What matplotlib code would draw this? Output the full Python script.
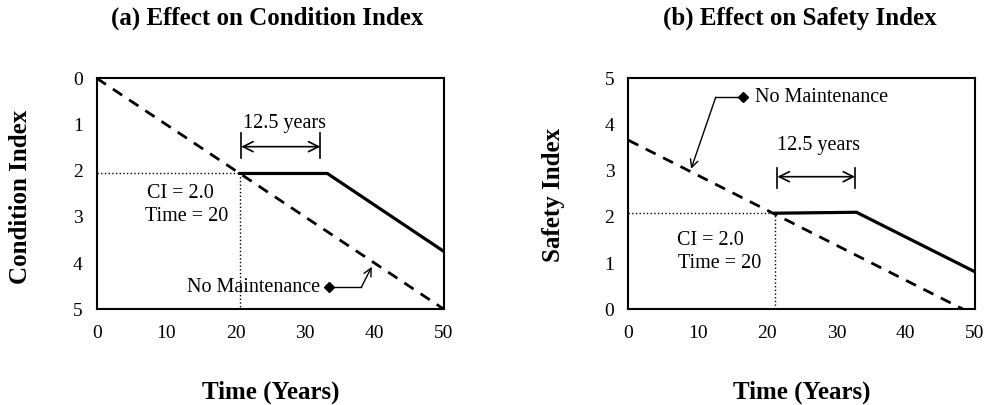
import numpy as np
import matplotlib.pyplot as plt

plt.rcParams['font.family'] = ['Liberation Serif', 'DejaVu Serif']

# panel (a): condition index (0 best at top, 5 worst)
ci_none_t = [0, 50]
ci_none_v = [0, 5]
ci_maint_t = [20.6, 33.2, 50]
ci_maint_v = [2.06, 2.06, 3.75]

# panel (b): safety index
si_none_t = [0, 48.3]
si_none_v = [3.66, 0]
si_maint_t = [21.2, 32.9, 50]
si_maint_v = [2.08, 2.1, 0.81]

x_ticks = [0, 10, 20, 30, 40, 50]
y_ticks = [0, 1, 2, 3, 4, 5]

fig = plt.figure(figsize=(9.9, 4.05), dpi=100)
axa = fig.add_axes([0.0977, 0.2363, 0.3508, 0.5704])
axb = fig.add_axes([0.6347, 0.2363, 0.3502, 0.5704])


def style(ax):
    ax.set_xlim(0, 50)
    ax.set_xticks(x_ticks)
    ax.set_yticks(y_ticks)
    ax.tick_params(length=0, labelsize=14)
    ax.tick_params(axis='x', pad=11)
    ax.tick_params(axis='y', pad=10)
    for s in ax.spines.values():
        s.set_linewidth(1.5)
    ax.set_xlabel('Time (Years)', fontsize=18, fontweight='bold')
    ax.xaxis.set_label_coords(0.5, -0.31)


def bracket(ax, x0, x1, y_arrow, y_lo, y_hi):
    ax.plot([x0, x0], [y_lo, y_hi], color='black', lw=1.2)
    ax.plot([x1, x1], [y_lo, y_hi], color='black', lw=1.2)
    ax.annotate('', xy=(x0, y_arrow), xytext=(x1, y_arrow),
                arrowprops=dict(arrowstyle='<->', color='black', lw=1.2,
                                shrinkA=0, shrinkB=0, mutation_scale=18))


# (a)
axa.plot(ci_none_t, ci_none_v, color='black', lw=2, dashes=(4, 3))
axa.plot(ci_maint_t, ci_maint_v, color='black', lw=2.3, solid_joinstyle='miter')
axa.plot([0, ci_maint_t[0]], [ci_maint_v[0]] * 2, color='black', lw=1, ls=':')
axa.plot([ci_maint_t[0]] * 2, [ci_maint_v[0], 5], color='black', lw=1, ls=':')
axa.set_ylim(5, 0)
style(axa)
axa.set_ylabel('Condition Index', fontsize=18, fontweight='bold')
axa.yaxis.set_label_coords(-0.186, 0.485)
fig.text(267 / 990, 1 - 18 / 405, '(a) Effect on Condition Index', fontsize=18,
         fontweight='bold', ha='center', va='center')
bracket(axa, 20.8, 32.2, 1.48, 1.19, 1.73)
axa.text(27.1, 0.97, '12.5 years', fontsize=14.5, ha='center', va='center')
axa.text(12.0, 2.49, 'CI = 2.0', fontsize=14.5, ha='center', va='center')
axa.text(13.0, 3.0, 'Time = 20', fontsize=14.5, ha='center', va='center')
axa.text(32.2, 4.52, 'No Maintenance', fontsize=14.5, ha='right', va='center')
axa.plot([33.5, 38.1], [4.52, 4.52], color='black', lw=1)
axa.plot([33.5], [4.52], marker='D', color='black', ms=5)
axa.annotate('', xy=(39.6, 4.08), xytext=(38.1, 4.52),
             arrowprops=dict(arrowstyle='->', color='black', lw=1,
                             shrinkA=0, shrinkB=0, mutation_scale=14))

# (b)
axb.plot(si_none_t, si_none_v, color='black', lw=2, dashes=(4, 3))
axb.plot(si_maint_t, si_maint_v, color='black', lw=2.3, solid_joinstyle='miter')
axb.plot([0, si_maint_t[0]], [si_maint_v[0]] * 2, color='black', lw=1, ls=':')
axb.plot([si_maint_t[0]] * 2, [0, si_maint_v[0]], color='black', lw=1, ls=':')
axb.set_ylim(0, 5)
style(axb)
axb.set_ylabel('Safety Index', fontsize=18, fontweight='bold')
axb.yaxis.set_label_coords(-0.183, 0.495)
fig.text(800 / 990, 1 - 18 / 405, '(b) Effect on Safety Index', fontsize=18,
         fontweight='bold', ha='center', va='center')
bracket(axb, 21.5, 32.7, 2.87, 2.62, 3.05)
axb.text(27.4, 3.54, '12.5 years', fontsize=14.5, ha='center', va='center')
axb.text(11.8, 1.49, 'CI = 2.0', fontsize=14.5, ha='center', va='center')
axb.text(13.2, 1.0, 'Time = 20', fontsize=14.5, ha='center', va='center')
axb.text(18.2, 4.59, 'No Maintenance', fontsize=14.5, ha='left', va='center')
axb.plot([12.6, 16.6], [4.59, 4.59], color='black', lw=1)
axb.plot([16.6], [4.59], marker='D', color='black', ms=5)
axb.annotate('', xy=(9.05, 3.04), xytext=(12.6, 4.59),
             arrowprops=dict(arrowstyle='->', color='black', lw=1,
                             shrinkA=0, shrinkB=0, mutation_scale=14))

fig.savefig('out.png', dpi=100)
